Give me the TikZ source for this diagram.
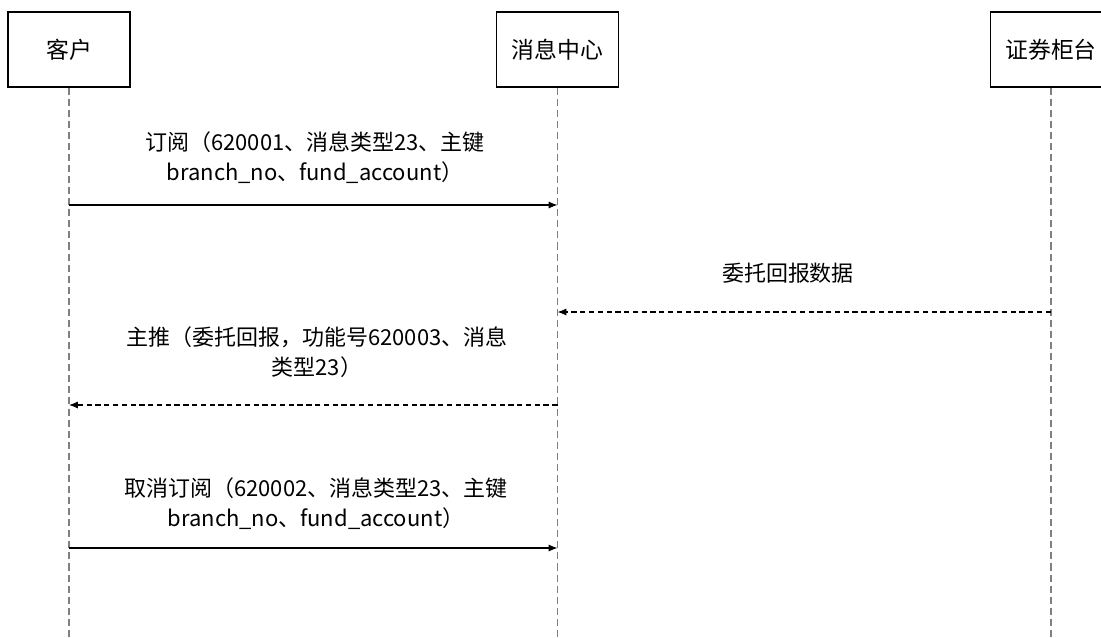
\documentclass[tikz,border=0pt]{standalone}
\usepackage{fontspec}
\setmainfont{Noto Sans CJK SC}
\usetikzlibrary{positioning}
\usetikzlibrary{arrows.meta}

\begin{document}
\begin{tikzpicture}
[   x=0.02cm,
    y=-0.02cm,
    font = \fontsize{12.5}{17}\selectfont,
    actor/.style={draw, line width=0.6pt, minimum width=2.44cm, minimum height=1.5cm, inner sep=0pt, font=\fontsize{13}{17}\selectfont},
    lifeline/.style={draw=gray, line width=0.6pt, dash pattern=on 4pt off 2.3pt},
    call/.style={line width=0.6pt, -{Latex[length=5pt,width=4pt]}},
    reply/.style={call, dash pattern=on 3pt off 2pt},
    msg/.style={align=center, inner sep=0pt}
]
\useasboundingbox (0,0) rectangle (1101,637);

% participants
\node[actor] (client)  at (69,49.5)   {客户};
\node[actor] (center)  at (557.5,49.5) {消息中心};
\node[actor] (counter) at (1051,49.5) {证券柜台};

\coordinate (bottom) at (0,640);
\foreach \who in {client,center,counter}
    \draw[lifeline] (\who.south) -- (\who.south |- bottom);

% message rows
\coordinate (m1) at (0,205);
\coordinate (m2) at (0,312);
\coordinate (m3) at (0,405);
\coordinate (m4) at (0,548);

\draw[call]  (client |- m1) -- (center |- m1);
\draw[reply] (counter |- m2) -- (center |- m2);
\draw[reply] (center |- m3) -- (client |- m3);
\draw[call]  (client |- m4) -- (center |- m4);

\node[msg] (subscribe) at (315,158) {订阅（620001、消息类型23、主键\\branch\_no、fund\_account）};
\node[msg] (report)    at (788,273) {委托回报数据};
\node[msg] (push)      at (317,352) {主推（委托回报，功能号620003、消息\\类型23）};
\node[msg] (cancel)    at (316,504) {取消订阅（620002、消息类型23、主键\\branch\_no、fund\_account）};
\end{tikzpicture}
\end{document}
